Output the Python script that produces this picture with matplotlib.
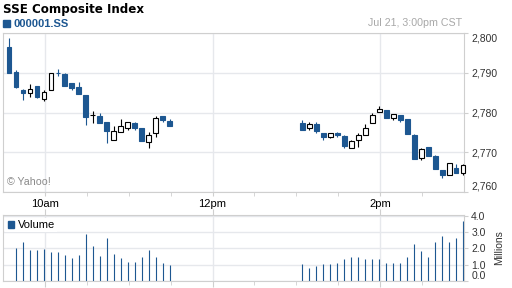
import matplotlib
matplotlib.use('Agg')
import numpy as np
from matplotlib import pyplot as plt
from matplotlib.patches import Patch

plt.rcParams['font.family'] = ['Liberation Sans', 'DejaVu Sans']

# 5-minute bars, labelled by bar end time
times = [
    '09:35', '09:40', '09:45', '09:50', '09:55', '10:00', '10:05', '10:10',
    '10:15', '10:20', '10:25', '10:30', '10:35', '10:40', '10:45', '10:50',
    '10:55', '11:00', '11:05', '11:10', '11:15', '11:20', '11:25', '11:30',
    '13:05', '13:10', '13:15', '13:20', '13:25', '13:30', '13:35', '13:40',
    '13:45', '13:50', '13:55', '14:00', '14:05', '14:10', '14:15', '14:20',
    '14:25', '14:30', '14:35', '14:40', '14:45', '14:50', '14:55', '15:00',
]
opens = [
    2796.5, 2790.3, 2785.7, 2785.0, 2786.6, 2783.4, 2785.8, 2790.05,
    2789.7, 2787.4, 2786.4, 2784.4, 2779.25, 2779.0, 2777.6, 2773.1,
    2775.2, 2776.2, 2777.3, 2776.2, 2772.6, 2774.9, 2779.0, 2777.8,
    2777.4, 2776.1, 2777.0, 2774.9, 2773.8, 2774.8, 2774.0, 2771.1,
    2773.1, 2774.4, 2777.4, 2780.2, 2780.7, 2778.5, 2779.3, 2778.4,
    2774.2, 2768.6, 2771.3, 2768.9, 2765.4, 2764.3, 2765.9, 2764.7,
]
highs = [
    2798.8, 2790.8, 2785.9, 2787.1, 2786.6, 2785.8, 2790.1, 2790.9,
    2789.9, 2787.4, 2787.6, 2784.4, 2780.3, 2780.0, 2777.6, 2776.5,
    2778.3, 2777.7, 2777.6, 2776.2, 2775.1, 2779.0, 2779.0, 2778.4,
    2778.1, 2777.7, 2777.5, 2774.9, 2774.8, 2775.1, 2774.2, 2773.1,
    2774.8, 2777.0, 2779.9, 2781.7, 2780.7, 2779.7, 2779.3, 2778.4,
    2774.6, 2771.1, 2771.3, 2769.2, 2765.4, 2767.3, 2767.1, 2767.1,
]
lows = [
    2790.1, 2786.1, 2783.2, 2783.9, 2783.7, 2782.9, 2785.8, 2789.2,
    2786.7, 2785.7, 2784.7, 2776.8, 2777.4, 2777.3, 2772.4, 2773.1,
    2775.2, 2775.7, 2775.6, 2772.8, 2771.0, 2773.9, 2777.6, 2776.6,
    2775.7, 2775.7, 2774.7, 2773.0, 2773.5, 2773.9, 2771.1, 2771.1,
    2771.3, 2774.4, 2777.4, 2780.2, 2778.6, 2778.0, 2777.7, 2774.6,
    2768.2, 2768.0, 2769.0, 2765.7, 2763.4, 2764.3, 2764.7, 2764.1,
]
closes = [
    2790.1, 2786.5, 2784.9, 2786.0, 2783.8, 2785.3, 2790.1, 2789.95,
    2786.7, 2786.2, 2784.7, 2778.9, 2779.3, 2777.3, 2775.3, 2775.4,
    2776.6, 2777.7, 2776.1, 2772.8, 2774.2, 2778.5, 2778.2, 2776.6,
    2775.7, 2777.1, 2775.4, 2773.7, 2774.8, 2774.3, 2771.5, 2772.8,
    2774.4, 2776.2, 2779.3, 2781.0, 2778.6, 2779.5, 2778.1, 2774.6,
    2768.2, 2770.7, 2769.0, 2765.7, 2764.2, 2767.3, 2764.7, 2766.8,
]
# volume in millions
volumes = [
    0.0, 2.04, 2.39, 1.90, 1.90, 1.96, 1.78, 1.78,
    1.59, 1.41, 1.59, 2.88, 2.14, 1.53, 2.63, 1.65,
    1.41, 1.16, 1.16, 1.47, 1.90, 1.47, 1.10, 0.98,
    1.06, 0.80, 0.92, 1.06, 1.06, 1.12, 1.33, 1.47,
    1.47, 1.37, 1.33, 1.37, 1.12, 1.12, 1.12, 1.47,
    2.29, 1.84, 1.47, 2.39, 2.76, 2.39, 2.63, 3.67,
]
price_ticks = [2760, 2770, 2780, 2790, 2800]
vol_ticks = [0, 1, 2, 3, 4]
hour_ticks = [600, 720, 840]
hour_labels = ['10am', '12pm', '2pm']

blue = '#1d5791'
grid_c = '#e6e8ec'
edge_c = '#cfcfcf'

o = np.array(opens)
h = np.array(highs)
l = np.array(lows)
c = np.array(closes)
x = np.array([int(t[:2]) * 60 + int(t[3:]) for t in times]) - 0.7
up = c >= o

fig = plt.figure(figsize=(5.12, 2.88), dpi=100)
W, H = 512.0, 288.0
ax = fig.add_axes([2.7 / W, 1 - 191.7 / H, 461.6 / W, 158.4 / H])
axv = fig.add_axes([2.7 / W, 1 - 281 / H, 461.6 / W, 66 / H])

# candles
wick_c = ['black' if u else blue for u in up]
ax.vlines(x, l, h, colors=wick_c, linewidth=0.8, zorder=2)
body_lo = np.minimum(o, c)
body_h = np.maximum(np.abs(c - o), 0.12)
bars = ax.bar(x, body_h, width=3.1, bottom=body_lo,
              color=['white' if u else blue for u in up],
              edgecolor=['black' if u else blue for u in up],
              linewidth=0.8, zorder=3)
for b in bars:
    b.set_clip_on(False)

ax.set_xlim(570, 900)
ax.set_ylim(2760, 2800)
ax.set_xticks(hour_ticks)
ax.set_xticklabels(hour_labels)
ax.set_xticks(range(600, 900, 30), minor=True)
ax.yaxis.tick_right()
ax.set_yticks(price_ticks)
ax.set_yticklabels([f'{v:,}' for v in price_ticks])
ax.tick_params(axis='x', which='both', length=3, color=edge_c, labelsize=8, pad=2)
ax.tick_params(axis='y', length=3, color=edge_c, labelsize=7.5, labelcolor='#333333', pad=2)
ax.grid(axis='y', color=grid_c, linewidth=1)
ax.grid(axis='x', which='major', color=grid_c, linewidth=1)
ax.set_axisbelow(True)
for s in ax.spines.values():
    s.set_color(edge_c)
ticks = ax.yaxis.get_major_ticks()
ticks[0].label2.set_verticalalignment('bottom')
ticks[-1].label2.set_verticalalignment('top')

ax.text(0.01, 0.06, '\u00a9 Yahoo!', transform=ax.transAxes, fontsize=7.7,
        color='#8a8a8a', va='center', ha='left')
leg = ax.legend(handles=[Patch(color=blue, label='000001.SS')], loc='lower left',
                bbox_to_anchor=(0, 1.025), frameon=False, handlelength=0.7,
                handleheight=0.7, handletextpad=0.3, borderaxespad=0, borderpad=0,
                fontsize=8, labelcolor=blue)
for t in leg.get_texts():
    t.set_weight('bold')

# volume
axv.vlines(x, 0, volumes, colors=blue, linewidth=0.8)
axv.set_xlim(570, 900)
axv.set_ylim(0, 4.04)
axv.set_xticks(hour_ticks)
axv.set_xticklabels([])
axv.set_xticks(range(600, 900, 30), minor=True)
axv.tick_params(axis='x', which='both', length=3, color=edge_c)
axv.tick_params(axis='x', which='major', top=True, length=4)
axv.yaxis.tick_right()
axv.set_yticks(vol_ticks)
axv.set_yticklabels([f'{v:.1f}' for v in vol_ticks])
axv.tick_params(axis='y', length=3, color=edge_c, labelsize=7.5, labelcolor='#333333', pad=2)
axv.yaxis.get_major_ticks()[0].label2.set_verticalalignment('bottom')
axv.grid(axis='y', color=grid_c, linewidth=1)
axv.grid(axis='x', which='major', color=grid_c, linewidth=1)
axv.set_axisbelow(True)
for s in axv.spines.values():
    s.set_color(edge_c)
axv.yaxis.set_label_position('right')
axv.set_ylabel('Millions', fontsize=7.5, color='#333333', labelpad=6)
axv.legend(handles=[Patch(color=blue, label='Volume')], loc='upper left',
           bbox_to_anchor=(0, 1), frameon=True, facecolor='white', edgecolor='none',
           framealpha=1, fancybox=False, handlelength=0.6, handleheight=0.6,
           handletextpad=0.3, borderaxespad=0.25, borderpad=0.2, fontsize=8)

fig.text(3 / W, 1 - 9 / H, 'SSE Composite Index', fontsize=8.6, weight='bold',
         family='DejaVu Sans', va='center', ha='left')
fig.text(462 / W, 1 - 23 / H, 'Jul 21, 3:00pm CST', fontsize=7.7, color='#a8a8a8',
         va='center', ha='right')

fig.savefig('out.png', dpi=100)
